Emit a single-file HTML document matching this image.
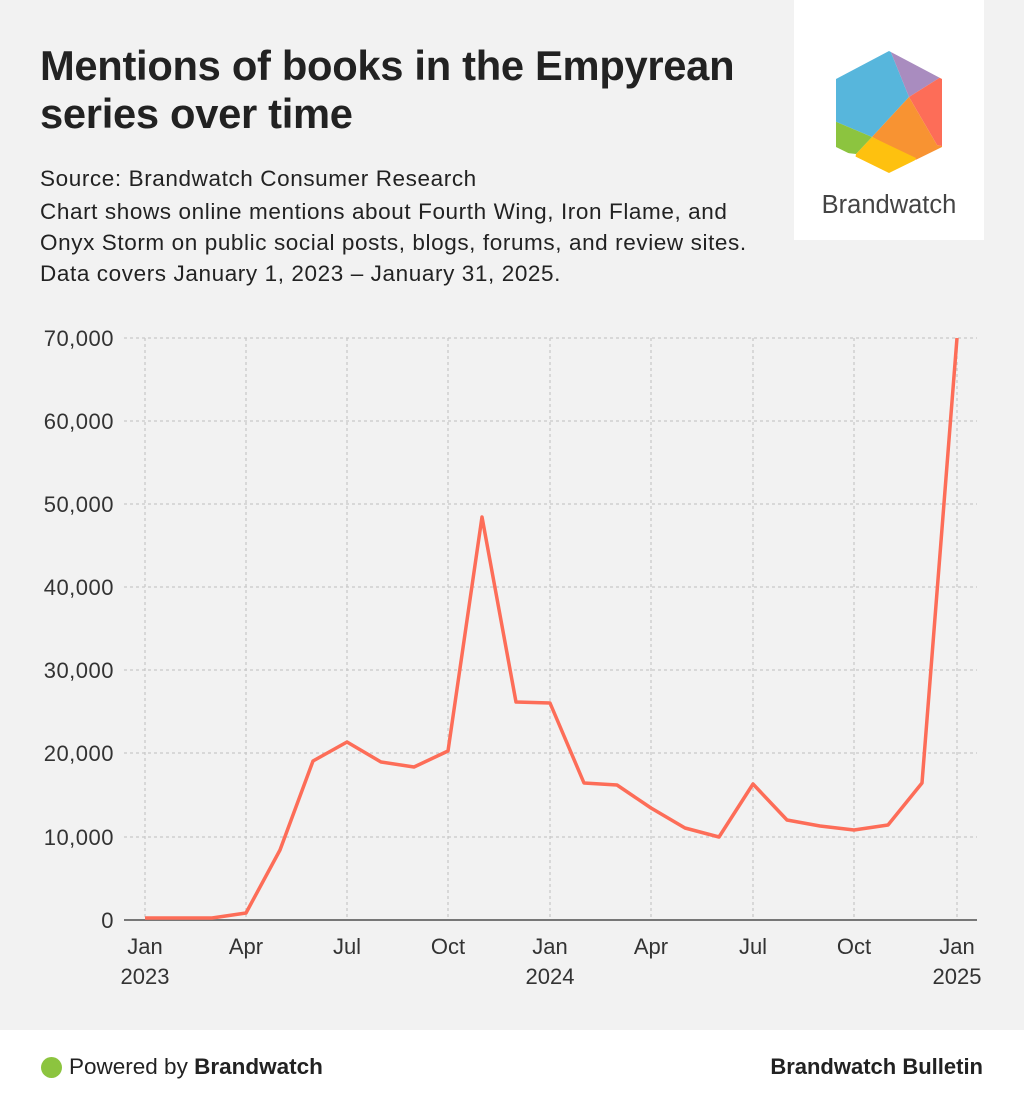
<!DOCTYPE html>
<html><head><meta charset="utf-8"><style>
body{margin:0;width:1024px;height:1106px;background:#f2f2f2;font-family:"Liberation Sans",sans-serif;position:relative;overflow:hidden;color:#222}
.t{position:absolute;left:40px;top:42px;font-size:41.7px;font-weight:bold;line-height:48px;color:#222;letter-spacing:-0.3px}
.s{position:absolute;left:40px;top:163px;font-size:22.5px;line-height:31px;color:#222;white-space:nowrap;letter-spacing:0.6px}
.logo{position:absolute;left:794px;top:0;width:190px;height:240px;background:#fff}
.foot{position:absolute;left:0;top:1030px;width:1024px;height:76px;background:#fff}
</style></head><body>
<div class="t">Mentions of books in the Empyrean<br>series over time</div>
<div class="s">Source: Brandwatch Consumer Research<br><span style="display:block;margin-top:2px">Chart shows online mentions about Fourth Wing, Iron Flame, and<br>Onyx Storm on public social posts, blogs, forums, and review sites.<br>Data covers January 1, 2023 – January 31, 2025.</span></div>
<div class="logo"><svg width="190" height="240" viewBox="794 0 190 240">
<defs><clipPath id="h"><path d="M889 51 L942 79 L942 147 L889 173 L836 147 L836 79 Z"/></clipPath></defs>
<g clip-path="url(#h)">
<polygon points="820,40 886,40 909,97 872,137 820,115" fill="#57b6dc"/>
<polygon points="886,40 960,40 960,65 909,97" fill="#a98cbf"/>
<polygon points="960,65 909,97 937,145 960,150" fill="#fd6d58"/>
<polygon points="909,97 937,145 960,150 916,160 872,137" fill="#f89332"/>
<polygon points="872,137 916,158 900,190 850,190 856,154" fill="#fec10f"/>
<polygon points="820,115 872,137 856,154 820,150" fill="#8cc43f"/>
</g>
<text x="889" y="213" text-anchor="middle" font-size="25.5" fill="#444" font-family="Liberation Sans">Brandwatch</text>
</svg></div>
<svg style="position:absolute;left:0;top:0" width="1024" height="1030">
<g stroke="#c8c8c8" stroke-dasharray="3,3" stroke-width="1.2">
<line x1="124" x2="977" y1="338" y2="338"/><line x1="124" x2="977" y1="421" y2="421"/><line x1="124" x2="977" y1="504" y2="504"/><line x1="124" x2="977" y1="587" y2="587"/><line x1="124" x2="977" y1="670" y2="670"/><line x1="124" x2="977" y1="753" y2="753"/><line x1="124" x2="977" y1="837" y2="837"/>
<line x1="145" x2="145" y1="338" y2="920"/><line x1="246" x2="246" y1="338" y2="920"/><line x1="347" x2="347" y1="338" y2="920"/><line x1="448" x2="448" y1="338" y2="920"/><line x1="550" x2="550" y1="338" y2="920"/><line x1="651" x2="651" y1="338" y2="920"/><line x1="753" x2="753" y1="338" y2="920"/><line x1="854" x2="854" y1="338" y2="920"/><line x1="957" x2="957" y1="338" y2="920"/>
</g>
<line x1="124" x2="977" y1="920" y2="920" stroke="#777" stroke-width="2"/>
<g font-size="22" fill="#333" text-anchor="end" letter-spacing="0.5">
<text x="114" y="346">70,000</text><text x="114" y="429">60,000</text><text x="114" y="512">50,000</text><text x="114" y="595">40,000</text><text x="114" y="678">30,000</text><text x="114" y="761">20,000</text><text x="114" y="845">10,000</text><text x="114" y="928">0</text>
</g>
<g font-size="22" fill="#333" text-anchor="middle">
<text x="145" y="954">Jan</text><text x="145" y="984">2023</text><text x="246" y="954">Apr</text><text x="347" y="954">Jul</text><text x="448" y="954">Oct</text><text x="550" y="954">Jan</text><text x="550" y="984">2024</text><text x="651" y="954">Apr</text><text x="753" y="954">Jul</text><text x="854" y="954">Oct</text><text x="957" y="954">Jan</text><text x="957" y="984">2025</text>
</g>
<polyline fill="none" stroke="#fd6d58" stroke-width="3.5" stroke-linejoin="round" points="145,918 179,918 212,918 246,913 280,850 313,761 347,742 381,762 414,767 448,751 482,517 516,702 550,703 584,783 617,785 651,808 685,828 719,837 753,784 787,820 820,826 854,830 888,825 922,783 957,338"/>
</svg>
<div class="foot">
<div style="position:absolute;left:41px;top:27px;width:21px;height:21px;border-radius:50%;background:#8cc43f"></div>
<div style="position:absolute;left:69px;top:24px;font-size:22.5px;color:#222">Powered by <b>Brandwatch</b></div>
<div style="position:absolute;right:41px;top:24px;font-size:22px;font-weight:bold;color:#222">Brandwatch Bulletin</div>
</div>
</body></html>
